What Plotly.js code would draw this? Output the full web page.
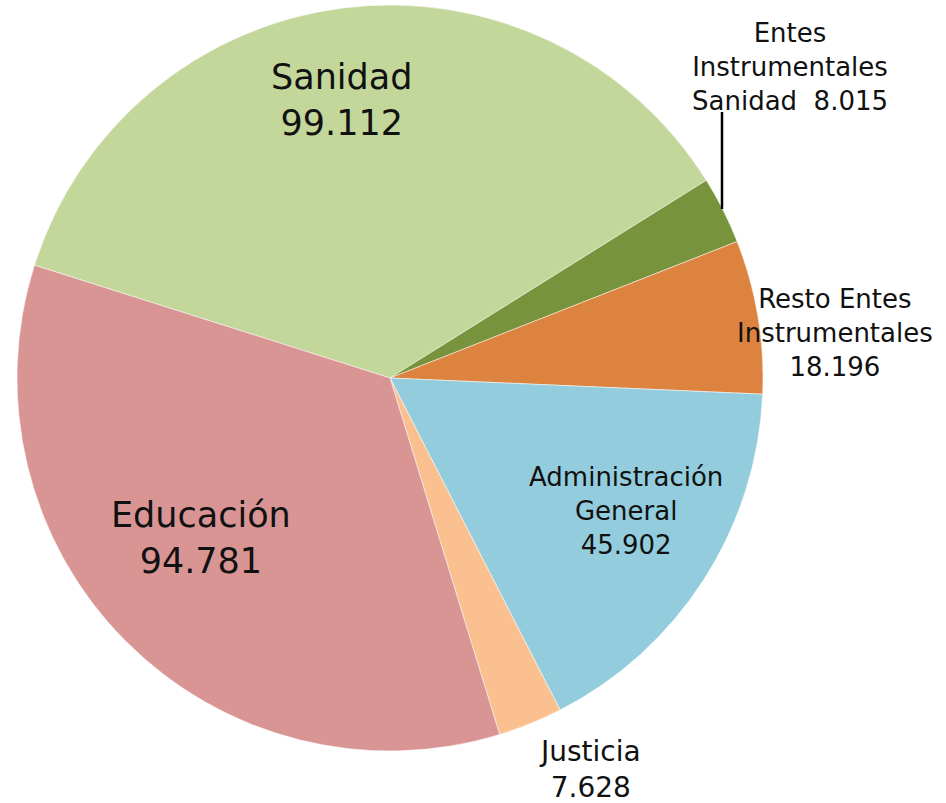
<!DOCTYPE html>
<html>
<head>
<meta charset="utf-8">
<script src="https://cdn.plot.ly/plotly-3.0.1.min.js"></script>
<style>html,body{margin:0;padding:0;background:#fff;}#chart{width:946px;height:803px;}</style>
</head>
<body>
<div id="chart"></div>
<script>
// Data (thousands separators use "." as in the original)
var categories = ["Sanidad", "Entes Instrumentales Sanidad", "Resto Entes Instrumentales", "Administración General", "Justicia", "Educación"];
var values = [99112, 8015, 18196, 45902, 7628, 94781];
var labelLines = ["Sanidad", "Entes<br>Instrumentales<br>Sanidad&nbsp;", "Resto Entes<br>Instrumentales", "Administración<br>General", "Justicia", "Educación"];
var valueSep = ["<br>", " ", "<br>", "<br>", "<br>", "<br>"];
var colors = ["#C4D79B", "#77933C", "#DC843F", "#93CDDD", "#FAC090", "#D99594"];

function fmt(v) {
  var s = String(v);
  return s.replace(/\B(?=(\d{3})+(?!\d))/g, ".");
}

var W = 946, H = 803;
var cx = 390, cy = 378, R = 373;

// label placement (pixel centres) and sizes
var labelPos = [[341, 100], [790, 67], [835, 333], [626, 511], [590, 769], [201, 538]];
var labelSize = [35, 26, 26, 26, 28, 35];

var trace = {
  type: "pie",
  labels: categories,
  values: values,
  sort: false,
  direction: "clockwise",
  rotation: -72.4,
  marker: {colors: colors, line: {color: "#ffffff", width: 0.5}},
  textinfo: "none",
  hoverinfo: "label+value",
  showlegend: false,
  domain: {x: [(cx - R) / W, (cx + R) / W], y: [1 - (cy + R) / H, 1 - (cy - R) / H]}
};

var annotations = categories.map(function (c, i) {
  return {
    xref: "paper", yref: "paper",
    x: labelPos[i][0] / W, y: 1 - labelPos[i][1] / H,
    xanchor: "center", yanchor: "middle",
    text: labelLines[i] + valueSep[i] + fmt(values[i]),
    showarrow: false,
    font: {family: "DejaVu Sans, sans-serif", size: labelSize[i], color: "#111111"}
  };
});

var layout = {
  width: W, height: H,
  margin: {l: 0, r: 0, t: 0, b: 0},
  paper_bgcolor: "#ffffff",
  plot_bgcolor: "#ffffff",
  showlegend: false,
  annotations: annotations,
  shapes: [{
    type: "line", xref: "paper", yref: "paper",
    x0: 722 / W, x1: 722 / W, y0: 1 - 112 / H, y1: 1 - 209 / H,
    line: {color: "#000000", width: 2.5}
  }]
};

Plotly.newPlot("chart", [trace], layout, {displayModeBar: false, staticPlot: true});
</script>
</body>
</html>
